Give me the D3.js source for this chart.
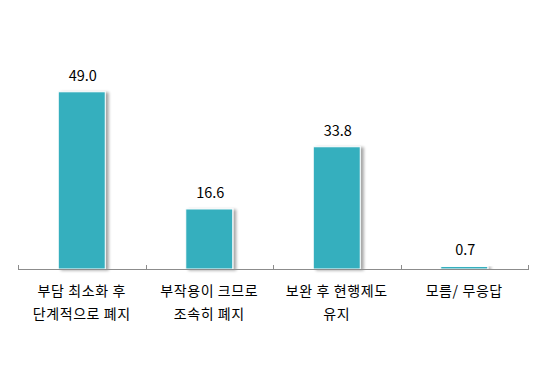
<!DOCTYPE html>
<html><head><meta charset="utf-8">
<script src="https://cdn.jsdelivr.net/npm/d3@7"></script>
<style>body{margin:0;background:#fff}svg{display:block}</style>
</head><body>
<svg id="c" width="548" height="365"></svg>
<script>
const categories = [["부담 최소화 후","단계적으로 폐지"],["부작용이 크므로","조속히 폐지"],["보완 후 현행제도","유지"],["모름/ 무응답"]];
const values = [49.0, 16.6, 33.8, 0.7];
const labels = ["49.0","16.6","33.8","0.7"];

const svg = d3.select("#c");
const font = "'Malgun Gothic','Noto Sans CJK KR',sans-serif";
const defs = svg.append("defs");
const f = defs.append("filter").attr("id","sh").attr("x","-20%").attr("y","-20%").attr("width","150%").attr("height","150%");
f.append("feGaussianBlur").attr("in","SourceAlpha").attr("stdDeviation",1.5).attr("result","b");
f.append("feOffset").attr("in","b").attr("dx",3).attr("dy",1).attr("result","o");
f.append("feComponentTransfer").attr("in","o").attr("result","o2").append("feFuncA").attr("type","linear").attr("slope",0.35);
const m = f.append("feMerge"); m.append("feMergeNode").attr("in","o2"); m.append("feMergeNode").attr("in","SourceGraphic");

const x = d3.scaleBand().domain(d3.range(values.length)).range([18,528]).paddingInner(0).paddingOuter(0);
const y = d3.scaleLinear().domain([0,60]).range([269,52]);
const bw = 47;

svg.selectAll("rect.bar").data(values).join("rect").attr("class","bar")
  .attr("x",(d,i)=>x(i)+x.bandwidth()/2-bw/2).attr("width",bw)
  .attr("y",d=>y(d)).attr("height",d=>y(0)-y(d))
  .attr("fill","#35AFBE").attr("stroke","#fff").attr("stroke-width",1)
  .attr("filter","url(#sh)");

const ax = svg.append("g");
ax.append("line").attr("x1",18).attr("x2",528).attr("y1",269.5).attr("y2",269.5).attr("stroke","#8c8c8c");
const ticks = d3.range(values.length+1).map(i=> i<values.length ? x(i) : x(values.length-1)+x.bandwidth());
ax.selectAll("line.t").data(ticks).join("line").attr("class","t")
  .attr("x1",d=>Math.round(d)+0.5).attr("x2",d=>Math.round(d)+0.5).attr("y1",265).attr("y2",270).attr("stroke","#8c8c8c");

svg.selectAll("text.v").data(values).join("text").attr("class","v")
  .attr("x",(d,i)=>x(i)+x.bandwidth()/2+1).attr("y",d=>y(d)-11)
  .attr("text-anchor","middle").attr("font-family",font).attr("font-size",14.5).attr("fill","#000")
  .text((d,i)=>labels[i]);

categories.forEach((lines,i)=>{
  lines.forEach((t,j)=>{
    svg.append("text").attr("x",x(i)+x.bandwidth()/2).attr("y",296+j*23)
      .attr("text-anchor","middle").attr("font-family",font).attr("font-size",14).attr("letter-spacing",0.6).attr("fill","#000").text(t);
  });
});
</script>
</body></html>
